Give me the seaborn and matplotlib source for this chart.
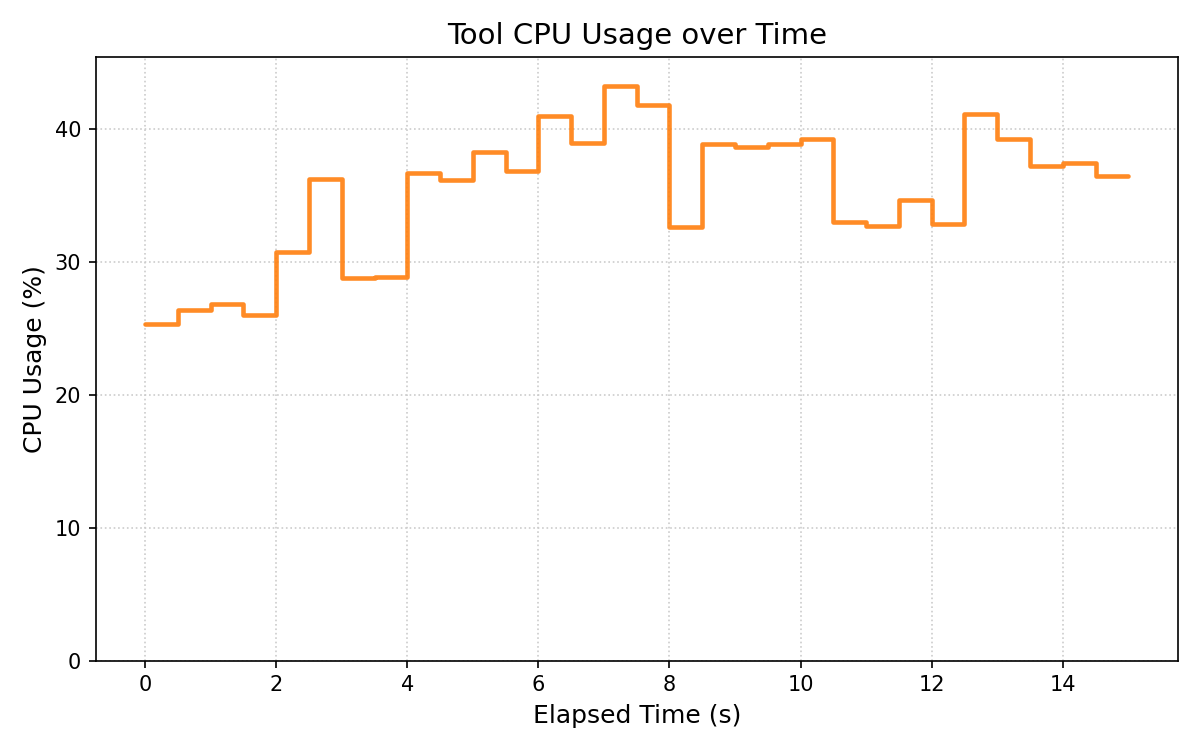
import numpy as np
import pandas as pd
import matplotlib
matplotlib.use("Agg")
import matplotlib.pyplot as plt
import seaborn as sns

# Elapsed time samples (every 0.5 s) and CPU usage
elapsed_s = [0.0, 0.5, 1.0, 1.5, 2.0, 2.5, 3.0, 3.5, 4.0, 4.5,
             5.0, 5.5, 6.0, 6.5, 7.0, 7.5, 8.0, 8.5, 9.0, 9.5,
             10.0, 10.5, 11.0, 11.5, 12.0, 12.5, 13.0, 13.5, 14.0, 14.5, 15.0]
cpu_pct = [25.35, 26.4, 26.87, 25.99, 30.75, 36.25, 28.77, 28.87, 36.7, 36.2,
           38.3, 36.85, 41.0, 38.96, 43.28, 41.86, 32.62, 38.9, 38.67, 38.9,
           39.3, 33.03, 32.75, 34.7, 32.85, 41.16, 39.3, 37.25, 37.5, 36.45, 36.45]

df = pd.DataFrame({"elapsed": elapsed_s, "cpu": cpu_pct})

sns.set_style("ticks")
plt.rcParams["font.family"] = ["DejaVu Sans"]
plt.rcParams["text.color"] = "black"
plt.rcParams["axes.labelcolor"] = "black"

fig, ax = plt.subplots(figsize=(8, 5), dpi=150)

sns.lineplot(data=df, x="elapsed", y="cpu", ax=ax, drawstyle="steps-post",
             color="tab:orange", alpha=0.9, linewidth=2.2)

ax.set_ylim(0, max(cpu_pct) * 1.05)
ax.grid(True, linestyle=":", color="#cccccc", linewidth=0.8)
for side in ["top", "right", "bottom", "left"]:
    ax.spines[side].set_visible(True)
    ax.spines[side].set_color("black")
    ax.spines[side].set_linewidth(0.8)
ax.tick_params(colors="black", labelsize=10)

ax.set_title("Tool CPU Usage over Time", fontsize=14, color="black")
ax.set_xlabel("Elapsed Time (s)", fontsize=12, color="black")
ax.set_ylabel("CPU Usage (%)", fontsize=12, color="black")

plt.tight_layout()
plt.savefig("out.png", dpi=150)
